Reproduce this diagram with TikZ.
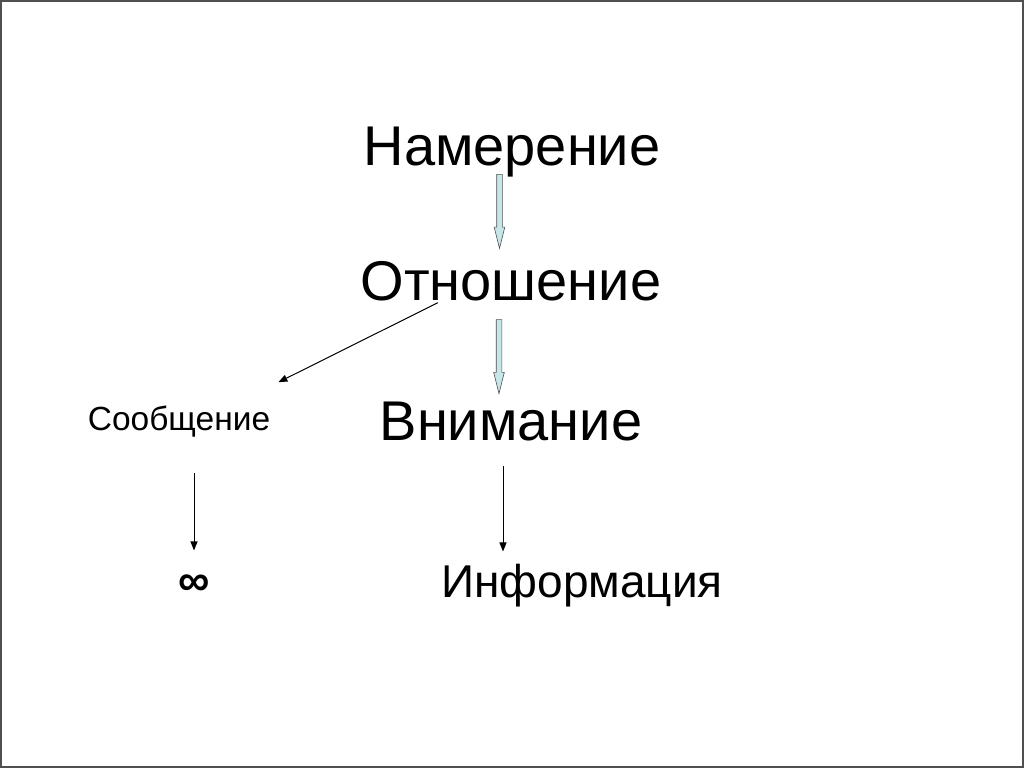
\documentclass[tikz,border=0pt]{standalone}
\usepackage{fontspec}
\setmainfont{Liberation Sans}
\usetikzlibrary{arrows.meta,shapes.arrows,calc}
\definecolor{arrowfill}{HTML}{C6E6EA}
\definecolor{framegray}{HTML}{505050}

\begin{document}
\begin{tikzpicture}[x=1pt,y=-1pt,inner sep=2pt,
                    big word/.style={anchor=base,font=\fontsize{56}{60}\selectfont},
                    mid word/.style={anchor=base,font=\fontsize{46}{50}\selectfont},
                    small word/.style={anchor=base,font=\fontsize{33.5}{37}\selectfont},
                    line arrow/.style={-{Triangle[length=9pt,width=7pt]},line width=1pt},
                    block arrow/.style={single arrow,draw=framegray,fill=arrowfill,line width=0.6pt,
                      inner sep=2.5pt,single arrow head extend=2.5pt,single arrow tip angle=28,
                      minimum height=74pt,shape border rotate=270}]
\useasboundingbox (0,0) rectangle (1024,768);
\draw[framegray,line width=2pt] (1,1) rectangle (1023,767);

\node[big word] (nam) at (512,165) {Намерение};
\node[big word] (otn) at (511,300) {Отношение};
\node[big word] (vnim) at (511,440) {Внимание};
\node[small word] (soob) at (179,430) {Сообщение};
\node[mid word] (info) at (582,597) {Информация};
\node[font=\fontsize{44}{48}\selectfont\bfseries] (inf) at (194,585) {∞};

% block arrows down the middle
\path ([xshift=-12pt]nam.south) -- ([xshift=-12pt]otn.north)
  node[midway,block arrow,yshift=13pt] {};
\path ([xshift=-12pt]otn.south) -- ([xshift=-12pt]vnim.north)
  node[midway,block arrow] {};

% thin arrows
\draw[line arrow] ($(otn.south west)!0.26!(otn.south east)$) -- ([xshift=6pt,yshift=21pt]soob.north east);
\draw[line arrow,shorten <=34pt,shorten >=22pt] (inf |- soob.south) -- (inf.north);
\draw[line arrow,shorten <=23pt,shorten >=10pt] ([xshift=-8pt]vnim.south) -- ([xshift=-8pt]vnim.south |- info.north);

\end{tikzpicture}
\end{document}
